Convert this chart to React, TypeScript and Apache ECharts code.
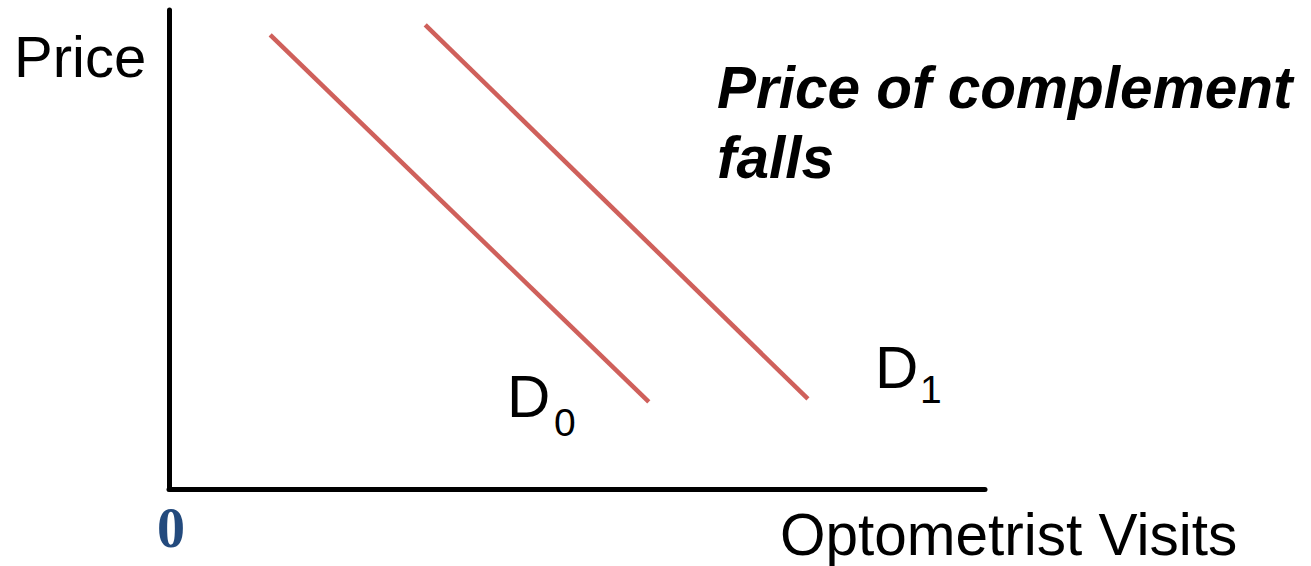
import React, { useEffect, useRef } from "react";
import * as echarts from "echarts";

const d0Points: [number, number][] = [
  [1.24, 9.48],
  [5.88, 1.82],
];
const d1Points: [number, number][] = [
  [3.14, 9.69],
  [7.83, 1.88],
];
const yAxisLabel = "Price";
const xAxisLabel = "Optometrist Visits";
const originLabel = "0";
const noteLines = ["Price of complement", "falls"];

const lineColor = "#cf605b";
const sans = "Liberation Sans, Arial, sans-serif";

export default function App() {
  const ref = useRef<HTMLDivElement>(null);
  useEffect(() => {
    if (!ref.current) return;
    const chart = echarts.init(ref.current, undefined, { renderer: "svg" });
    const axisCommon = {
      type: "value" as const,
      min: 0,
      max: 10,
      axisLine: { show: true, lineStyle: { color: "#000", width: 5 } },
      axisTick: { show: false },
      axisLabel: { show: false },
      splitLine: { show: false },
    };
    chart.setOption({
      animation: false,
      backgroundColor: "#fff",
      grid: { left: 169, right: 326, top: 10, bottom: 77 },
      xAxis: axisCommon,
      yAxis: axisCommon,
      series: [
        {
          type: "line",
          data: d0Points,
          symbol: "none",
          lineStyle: { color: lineColor, width: 4.5 },
        },
        {
          type: "line",
          data: d1Points,
          symbol: "none",
          lineStyle: { color: lineColor, width: 4.5 },
        },
      ],
      graphic: [
        {
          type: "text",
          style: { text: yAxisLabel, x: 14, y: 56, font: `58px ${sans}`, fill: "#000", verticalAlign: "middle" },
        },
        {
          type: "text",
          style: { text: noteLines[0], x: 717, y: 87, font: `italic bold 58.5px ${sans}`, fill: "#000", verticalAlign: "middle" },
        },
        {
          type: "text",
          style: { text: noteLines[1], x: 717, y: 157, font: `italic bold 58.5px ${sans}`, fill: "#000", verticalAlign: "middle" },
        },
        {
          type: "text",
          style: { text: "D", x: 507, y: 396, font: `60px ${sans}`, fill: "#000", verticalAlign: "middle" },
        },
        {
          type: "text",
          style: { text: "0", x: 554, y: 422, font: `39px ${sans}`, fill: "#000", verticalAlign: "middle" },
        },
        {
          type: "text",
          style: { text: "D", x: 875, y: 367, font: `60px ${sans}`, fill: "#000", verticalAlign: "middle" },
        },
        {
          type: "text",
          style: { text: "1", x: 920, y: 389, font: `39px ${sans}`, fill: "#000", verticalAlign: "middle" },
        },
        {
          type: "text",
          style: { text: originLabel, x: 157, y: 528, font: `bold 56px Liberation Serif, Times New Roman, serif`, fill: "#234a7d", verticalAlign: "middle" },
        },
        {
          type: "text",
          style: { text: xAxisLabel, x: 780, y: 534, font: `58.5px ${sans}`, fill: "#000", verticalAlign: "middle" },
        },
      ],
    });
    return () => chart.dispose();
  }, []);
  return <div ref={ref} style={{ width: 1311, height: 566, position: "absolute", left: 0, top: 0 }} />;
}
